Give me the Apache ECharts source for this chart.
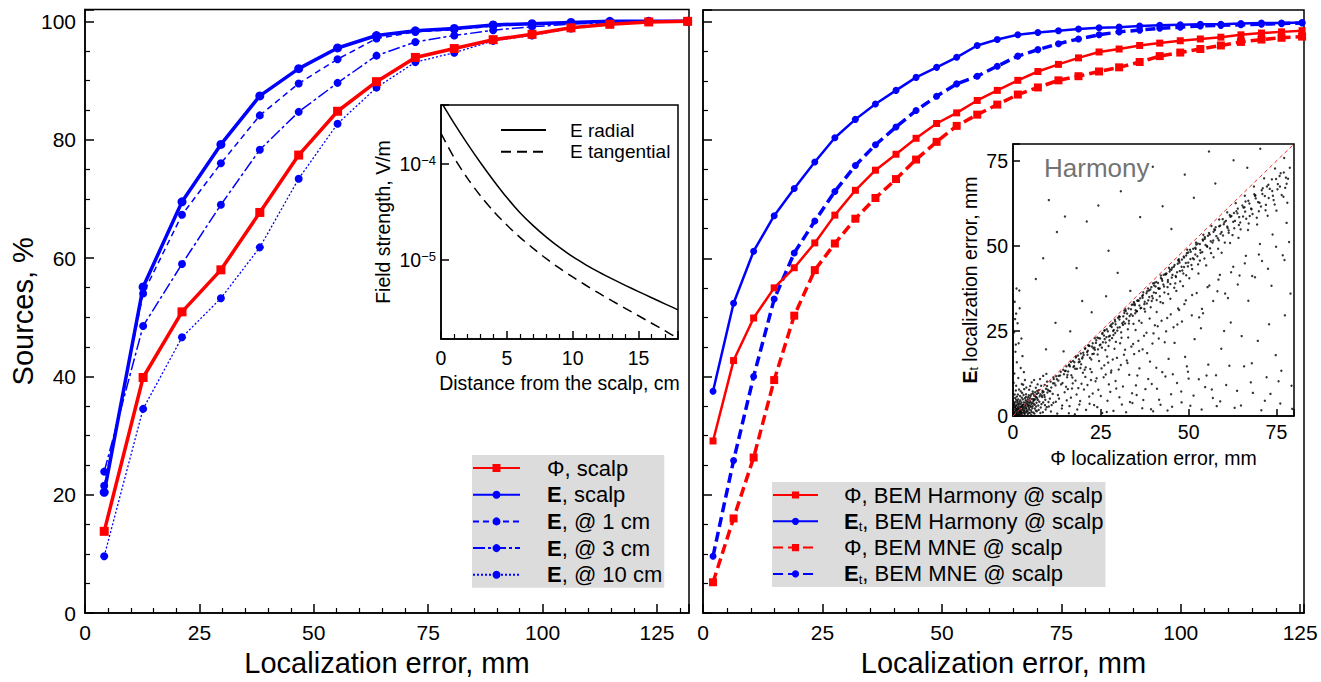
<!DOCTYPE html>
<html>
<head>
<meta charset="utf-8">
<script src="https://cdn.jsdelivr.net/npm/echarts@6/dist/echarts.min.js"></script>
<style>
html, body { margin: 0; padding: 0; background: #fff; }
#chart { width: 1321px; height: 682px; }
</style>
</head>
<body>
<div id="chart"></div>
<script>
const FONT = '"Liberation Sans", Arial, Helvetica, sans-serif';
const RED = '#ff0000';
const BLUE = '#0000ff';

// left panel: localization error, mm  vs  sources, %
const xLeft = [4.2, 12.7, 21.2, 29.7, 38.2, 46.7, 55.2, 63.7, 72.2, 80.7, 89.2, 97.7, 106.2, 114.7, 123.2, 131.7];
const phiScalp = [13.8, 39.8, 50.9, 58.0, 67.7, 77.4, 84.8, 89.8, 93.9, 95.4, 96.9, 97.8, 98.9, 99.5, 99.9, 100];
const eScalp = [20.4, 55.1, 69.5, 79.2, 87.4, 92.0, 95.5, 97.6, 98.4, 98.8, 99.4, 99.6, 99.8, 100, 100, 100];
const e1cm = [21.5, 54.0, 67.3, 76.0, 84.1, 89.5, 93.6, 97.1, 98.2, 98.6, 99.2, 99.5, 99.7, 99.9, 100, 100];
const e3cm = [23.9, 48.5, 59.0, 69.0, 78.3, 84.7, 89.6, 94.2, 96.5, 97.6, 98.5, 99.1, 99.5, 99.8, 100, 100];
const e10cm = [9.6, 34.5, 46.6, 53.2, 61.8, 73.4, 82.7, 88.8, 93.1, 94.7, 96.7, 97.6, 98.8, 99.5, 99.9, 100];

// right panel
const xRight = [2.1, 6.4, 10.6, 14.9, 19.1, 23.4, 27.6, 31.9, 36.1, 40.4, 44.6, 48.9, 53.1, 57.4, 61.6,
  65.9, 70.1, 74.4, 78.6, 82.9, 87.1, 91.4, 95.6, 99.9, 104.1, 108.4, 112.6, 116.9, 121.1, 125.4];
const phiHarmony = [29.1, 42.7, 49.9, 55.0, 58.4, 62.6, 67.3, 71.5, 74.9, 77.6, 80.3, 82.8, 84.6, 86.7, 88.4,
  90.1, 91.6, 92.8, 93.9, 94.9, 95.4, 96.0, 96.4, 96.8, 97.1, 97.4, 97.8, 98.1, 98.3, 98.5];
const etHarmony = [37.5, 52.4, 61.2, 67.2, 71.8, 76.3, 80.4, 83.5, 86.1, 88.4, 90.6, 92.3, 94.0, 96.0, 97.0,
  97.8, 98.2, 98.5, 98.8, 99.0, 99.1, 99.3, 99.4, 99.5, 99.6, 99.6, 99.7, 99.8, 99.8, 99.9];
const phiMne = [5.2, 16.0, 26.3, 39.4, 50.3, 58.0, 62.5, 66.7, 70.2, 73.4, 76.7, 79.7, 82.4, 84.3, 86.0,
  87.7, 88.9, 90.1, 90.8, 91.6, 92.3, 93.2, 94.2, 94.8, 95.4, 96.0, 96.6, 97.0, 97.3, 97.5];
const etMne = [9.6, 25.8, 40.0, 53.1, 60.9, 66.3, 71.3, 75.7, 79.2, 82.2, 85.0, 87.4, 89.5, 90.8, 92.5,
  94.2, 95.3, 96.3, 97.1, 97.8, 98.3, 98.6, 98.9, 99.1, 99.3, 99.4, 99.5, 99.6, 99.7, 99.8];

// inset: field strength vs distance from the scalp
const distCm = [0, 1, 2, 3, 4, 5, 6, 7, 8, 9, 10, 11, 12, 13, 14, 15, 16, 17, 18];
const eRadial = [4.45e-4, 2.65e-4, 1.63e-4, 1.03e-4, 6.7e-5, 4.47e-5, 3.11e-5, 2.28e-5, 1.73e-5, 1.35e-5,
  1.08e-5, 8.9e-6, 7.46e-6, 6.34e-6, 5.43e-6, 4.68e-6, 4.04e-6, 3.49e-6, 3.02e-6];
const eTangential = [2.09e-4, 1.16e-4, 7.13e-5, 4.66e-5, 3.21e-5, 2.31e-5, 1.72e-5, 1.32e-5, 1.03e-5, 8.2e-6,
  6.65e-6, 5.45e-6, 4.5e-6, 3.74e-6, 3.13e-6, 2.62e-6, 2.19e-6, 1.83e-6, 1.52e-6];

// inset: Harmony scatter (phi error, Et error), mm
const scatterPts = [
  [0.5,0.8],[1.2,0.4],[1.8,1.5],[2.3,0.9],[0.9,2.1],[3.1,1.7],[2.7,2.9],[1.5,3.3],[3.8,2.4],[4.2,0.6],
  [0.6,4.1],[2.1,4.6],[4.9,3.1],[5.3,1.2],[3.4,5.2],[1.1,5.7],[5.8,4.4],[6.2,2.2],[4.5,6.1],[2.6,6.8],
  [6.9,5.3],[7.3,1.8],[5.6,7.2],[3.2,7.9],[7.8,6.4],[8.1,3.5],[6.5,8.3],[8.7,7.1],[9.2,4.8],[9.6,2.6],
  [0.3,1.9],[1.4,2.6],[2.9,1.1],[3.6,3.8],[4.4,2.9],[2.2,3.5],[1.7,0.3],[0.8,3.0],[3.3,0.5],[4.7,4.6],
  [5.1,2.7],[3.9,4.3],[2.5,5.4],[5.9,3.6],[6.4,4.9],[4.1,1.5],[1.3,1.3],[0.4,0.2],[2.0,2.0],[2.8,2.3],
  [3.5,2.8],[1.9,1.1],[0.7,1.4],[1.6,2.2],[2.4,1.6],[3.0,3.2],[4.0,3.6],[4.6,1.9],[5.4,5.0],[6.0,6.1],
  [6.7,3.9],[7.1,4.7],[7.6,5.8],[5.0,5.9],[3.7,6.4],[4.3,5.5],[5.7,6.6],[6.3,7.0],[7.4,7.6],[8.3,5.6],
  [8.9,6.2],[9.4,8.0],[8.0,8.9],[7.0,9.3],[9.8,6.9],[9.1,3.2],[8.5,1.1],[7.9,2.5],[6.8,1.4],[6.1,0.7],
  [5.2,0.3],[4.8,0.9],[3.6,1.0],[2.6,0.2],[1.0,0.9],[0.2,0.6],[0.5,2.5],[1.2,3.9],[0.9,4.8],[1.8,4.2],
  [2.3,2.7],[3.1,4.0],[4.4,3.3],[5.5,3.9],[6.6,5.6],[7.2,6.8],[8.4,7.4],[9.0,9.1],[9.9,7.7],[10.5,5.1],
  [10.9,8.4],[10.2,2.8],[11.3,6.5],[11.8,9.6],[12.2,4.2],[1.5,4.9],[2.0,5.9],[3.0,6.2],[0.3,3.4],[0.6,5.3],
  [1.4,6.3],[2.2,7.3],[0.8,7.5],[3.8,8.4],[4.9,8.8],[5.3,9.9],[6.0,10.6],[7.7,10.9],[8.6,11.8],[9.5,12.4],
  [0.1,0.4],[0.3,1.0],[0.6,0.1],[0.9,1.6],[1.1,0.7],[1.3,2.1],[1.6,1.0],[1.8,0.6],[2.0,1.3],[2.2,2.5],
  [2.5,0.8],[2.7,1.9],[2.9,3.4],[3.2,0.9],[3.4,2.2],[3.6,4.6],[3.9,1.3],[4.1,3.0],[4.3,4.1],[4.6,2.4],
  [4.8,5.3],[5.1,1.7],[5.3,3.6],[5.6,2.9],[5.9,5.0],[6.2,3.3],[6.5,1.6],[6.8,6.5],[0.2,2.9],[0.4,3.7],
  [0.7,2.6],[1.0,3.2],[1.2,4.4],[1.5,1.8],[1.7,3.6],[1.9,2.8],[2.1,0.5],[2.4,4.0],[2.6,3.1],[2.8,4.9],
  [3.0,2.6],[3.3,1.5],[3.5,3.3],[3.7,5.6],[3.9,2.0],[4.2,4.9],[4.4,1.0],[4.7,3.8],[5.0,4.2],[5.2,6.4],
  [5.5,2.3],[5.8,1.0],[6.0,4.7],[6.3,5.8],[6.6,2.8],[6.9,7.4],[7.2,3.1],[7.5,4.2],[7.8,0.9],[8.2,6.0],
  [8.6,4.0],[9.0,5.6],[9.3,1.9],[9.7,10.1],[10.1,4.1],[10.6,7.3],[11.0,3.2],[11.5,11.4],[0.5,6.3],[0.9,8.9],
  [1.7,7.8],[2.5,9.4],[3.4,10.6],[4.6,7.7],[0.3,0.3],[0.8,0.5],[1.4,0.2],[0.2,1.3],[1.0,1.9],[2.3,1.2],
  [12.5,10.8],[13.4,11.9],[14.1,9.7],[14.8,13.2],[15.5,12.1],[16.2,14.6],[16.9,11.3],[17.5,15.8],[18.2,13.9],[18.8,16.7],
  [19.4,15.2],[20.1,17.9],[20.7,14.3],[21.3,19.2],[21.9,17.1],[22.5,20.4],[23.0,18.3],[23.6,21.5],[24.2,19.6],[24.8,22.8],
  [25.3,20.1],[25.9,23.7],[26.4,21.6],[27.0,24.9],[27.5,22.3],[28.1,26.2],[28.6,23.8],[29.2,27.0],[29.7,25.1],[30.3,28.4],
  [30.8,24.6],[31.4,29.3],[31.9,27.2],[32.5,30.1],[33.0,28.0],[33.6,31.4],[34.1,29.5],[34.7,32.6],[35.2,30.8],[35.8,33.9],
  [36.3,31.7],[36.9,34.8],[37.4,32.9],[38.0,36.1],[38.5,34.0],[39.1,37.2],[39.6,35.3],[40.2,38.4],[40.7,36.2],[41.3,39.1],
  [41.8,37.5],[42.4,40.3],[43.0,38.1],[43.5,41.6],[44.1,39.4],[44.6,42.5],[45.2,40.7],[45.8,43.9],[46.3,41.2],[46.9,44.8],
  [47.5,42.6],[48.1,46.0],[48.7,43.8],[49.3,47.2],[49.9,45.1],[50.6,48.3],[51.2,46.4],[51.9,49.5],[52.5,47.0],[53.2,50.6],
  [53.9,48.2],[54.6,52.1],[55.3,49.8],[56.0,53.4],[56.8,51.0],[57.5,54.7],[58.3,52.3],[59.0,56.0],[59.8,53.1],[60.6,57.4],
  [61.4,54.6],[62.2,58.8],[63.0,55.2],[63.9,59.6],[64.7,56.9],[65.6,61.3],[66.4,58.0],[67.3,62.5],[68.2,59.4],[69.1,64.0],
  [70.0,60.2],[71.0,65.3],[72.0,62.1],[73.1,66.8],[74.2,63.5],[75.4,68.2],[76.5,65.0],[77.7,70.1],
  [8.4,6.9],[9.7,8.8],[10.3,7.4],[11.6,10.9],[12.1,9.0],[13.0,11.8],[13.7,9.3],[14.3,13.6],[15.4,11.4],[15.9,14.9],
  [16.6,12.0],[17.1,16.2],[17.7,13.9],[18.5,17.8],[19.2,14.1],[19.8,17.3],[20.4,13.6],[21.1,18.8],[21.6,20.7],[22.3,16.6],
  [22.9,19.9],[23.7,22.3],[24.1,18.1],[24.9,21.0],[25.5,24.4],[26.3,19.4],[26.6,23.2],[27.2,20.6],[27.7,26.5],[28.2,22.9],
  [28.7,25.3],[29.3,21.8],[29.9,28.9],[30.4,26.1],[30.9,23.0],[31.5,27.7],[32.1,30.9],[32.7,25.5],[33.2,29.4],[33.8,32.7],
  [34.3,27.1],[34.8,30.2],[35.4,33.9],[35.9,28.0],[36.5,31.8],[37.0,35.6],[37.6,30.7],[38.1,33.1],[38.7,36.9],[39.2,32.0],
  [39.8,34.6],[40.3,39.2],[40.9,34.1],[41.4,37.6],[42.0,33.5],[42.5,39.8],[43.1,36.3],[43.7,41.9],[44.2,35.9],[44.8,38.8],
  [45.3,43.6],[45.9,37.7],[46.4,40.9],[47.0,45.8],[47.6,39.6],[48.2,42.8],[48.7,46.6],[49.3,41.4],[49.8,44.0],[50.4,48.9],
  [51.0,43.2],[51.5,46.1],[52.2,50.4],[52.7,44.6],[53.4,48.0],[54.0,51.9],[54.5,46.3],[55.2,50.0],[55.8,53.8],[56.4,47.9],
  [57.0,51.6],[57.7,55.5],[58.4,49.2],[59.1,53.6],[59.7,57.9],[60.3,51.0],[61.1,55.3],[61.7,59.1],[62.5,53.2],[63.2,57.4],
  [64.0,61.0],[64.8,54.9],[65.5,58.7],[66.2,63.1],[67.1,56.6],[67.9,60.8],[68.7,65.2],[69.4,58.3],[70.2,62.7],[71.1,67.0],
  [71.9,60.5],[72.8,64.1],[73.7,69.6],[74.5,62.2],[75.3,66.7],[76.2,71.4],[77.0,64.5],[77.9,68.3],[78.8,73.0],
  [10.7,10.1],[11.4,9.6],[12.3,11.7],[12.9,10.4],[13.6,13.0],[14.5,12.3],[15.2,14.6],[15.7,13.1],[16.5,15.9],[17.2,14.4],
  [17.9,17.2],[18.7,15.8],[19.3,18.4],[19.7,16.9],[20.6,19.9],[21.2,18.0],[21.8,20.6],[22.7,21.4],[23.3,19.5],[24.0,23.1],
  [24.7,20.8],[25.4,24.2],[26.1,22.6],[26.7,25.5],[27.3,23.4],[28.0,26.9],[28.5,25.0],[29.1,27.8],[29.8,26.0],[30.4,29.2],
  [31.1,27.3],[31.7,30.3],[32.3,28.6],[32.9,31.6],[33.6,29.9],[34.2,32.8],[34.9,31.1],[35.5,34.0],[36.0,32.5],[36.8,35.3],
  [37.5,33.6],[38.2,36.7],[38.8,35.0],[39.4,37.9],[40.1,36.3],[40.8,39.4],[41.5,37.4],[42.1,40.6],[42.8,38.7],[43.4,41.8],
  [44.1,40.0],[44.7,43.1],[45.4,41.5],[46.0,44.4],[46.7,42.3],[47.3,45.6],[48.0,43.9],[48.6,46.9],[49.2,45.0],[49.9,48.1],
  [50.5,46.2],[51.3,49.2],[51.9,47.5],[52.6,50.7],[53.3,48.8],[54.1,51.6],[54.8,50.3],[55.5,53.0],[56.3,51.4],[57.1,54.2],
  [57.9,52.9],[58.7,55.8],[59.4,54.1],[60.2,57.0],[61.0,55.7],[61.9,58.6],[62.7,57.1],[63.6,60.2],[64.4,58.5],[65.3,61.9],
  [66.1,60.1],[67.0,63.3],[67.8,61.0],[68.9,64.8],[69.8,62.9],[70.8,66.4],[71.7,64.7],[72.7,68.0],[73.8,66.2],[74.9,69.7],
  [76.0,67.5],[77.1,71.6],[78.3,69.8],
  [15.0,13.3],[16.0,15.1],[17.4,14.7],[18.0,17.5],[19.0,16.0],[20.0,18.6],[21.4,20.8],[22.6,18.2],[23.2,20.1],[24.4,22.9],
  [25.6,21.7],[26.0,25.1],[27.6,23.6],[28.4,27.3],[29.1,24.4],[30.2,29.3],[31.3,26.8],[32.0,31.4],[33.0,27.2],[34.6,33.1],
  [35.3,30.8],[36.2,34.6],[37.4,31.5],[38.4,37.5],[39.5,33.8],[40.6,38.1],[41.8,35.2],[42.9,41.5],[44.0,37.9],[45.1,43.0],
  [46.2,39.0],[47.4,45.1],[48.5,41.9],[49.5,47.9],[50.8,44.4],[52.0,49.2],[53.2,45.7],[54.6,52.6],[56.1,49.3],[57.3,54.9],
  [58.6,51.7],[60.0,56.4],[61.4,53.9],[62.9,59.7],[64.3,56.2],[65.9,61.4],[67.4,58.8],[69.0,64.9],[70.6,61.6],[72.3,67.5],
  [74.0,64.8],[75.9,70.6],[77.5,67.1],
  [15.1,8.6],[17.8,10.4],[19.9,12.7],[22.0,13.8],[24.5,16.2],[26.8,17.5],[28.9,19.8],[30.5,21.4],[32.8,23.1],[34.9,25.3],
  [36.6,27.4],[38.9,28.7],[40.9,30.6],[42.7,33.2],[44.8,34.5],[46.5,36.8],[48.4,38.2],[50.2,40.5],[52.8,41.9],[55.0,44.3],
  [57.1,46.7],[59.4,48.0],[61.8,50.9],[64.2,52.4],[66.9,54.7],[69.5,56.3],[72.5,58.9],[75.0,60.4],[78.1,62.7],
  [20.5,19.8],[23.3,22.9],[26.1,25.2],[29.0,28.3],[31.7,31.0],[34.4,33.5],[37.1,36.4],[39.9,39.0],[42.1,41.3],[44.4,43.6],
  [47.2,46.1],[49.6,48.9],[52.1,51.0],[54.2,53.3],[56.5,55.9],[58.7,57.8],[61.0,59.9],[63.4,62.6],[66.0,64.8],[68.6,67.5],
  [71.5,69.9],[74.6,72.8],[77.2,75.9],
  [15.6,7.9],[17.0,9.6],[18.6,8.2],[20.6,11.5],[21.2,9.1],[22.4,12.9],[23.8,11.1],[25.2,14.0],[26.4,12.2],[27.1,15.7],
  [28.0,13.4],[29.6,17.1],[30.7,15.0],[31.9,19.5],[32.4,16.3],[33.7,20.4],[34.5,18.2],[35.7,22.1],[36.9,19.6],[38.0,24.5],
  [39.7,21.3],[40.4,26.7],[41.5,22.8],[42.3,28.0],[43.6,24.9],[44.9,29.9],[45.7,26.1],[47.0,31.6],[48.1,27.8],[49.2,34.0],
  [50.9,29.6],[52.3,36.2],[53.8,31.5],[55.4,37.9],[57.0,33.8],[58.5,40.1],[60.4,36.0],[62.1,42.3],[64.0,38.7],[66.0,44.9],
  [68.1,41.2],[70.0,47.5],[72.6,43.3],[74.9,49.8],[77.3,45.9],
  [10.8,1.3],[11.5,3.9],[12.6,0.7],[13.1,5.1],[13.9,2.2],[14.7,7.0],[15.3,4.6],[16.1,2.9],[16.8,8.1],[17.6,0.5],
  [18.1,6.3],[18.9,3.4],[19.5,9.5],[20.8,1.8],[21.7,5.7],[22.2,10.6],[23.1,3.2],[24.3,7.7],[25.4,0.9],[25.8,11.4],
  [26.9,4.5],[27.7,7.1],[28.6,1.5],[29.2,10.3],[30.3,5.5],[31.3,8.7],[32.2,1.1],[33.1,12.1],[34.0,3.8],[35.2,6.2],
  [36.0,14.0],[37.1,4.7],[38.5,10.9],[39.9,1.4],[41.0,8.0],[42.0,3.3],[43.4,11.6],[45.3,2.7],[46.7,9.7],[48.0,4.0],
  [49.5,14.6],[51.4,6.0],[53.7,1.9],[55.1,11.9],[56.6,7.8],[59.0,4.3],[61.6,14.8],[64.9,3.1],[67.7,9.9],[70.7,1.7],
  [73.3,6.5],[76.4,13.3],[79.5,2.1],
  [14.0,3.1],[16.5,5.4],[18.3,1.9],[20.2,7.8],[21.8,3.6],[23.5,10.2],[25.0,5.9],[26.7,1.2],[27.9,12.8],[29.4,8.1],
  [31.0,3.4],[32.6,15.6],[33.9,6.7],[35.4,11.9],[36.8,2.3],[38.2,18.5],[39.5,9.4],[40.8,14.2],[41.6,4.8],[43.2,21.7],
  [44.0,1.6],[45.5,12.3],[46.8,26.9],[47.9,7.2],[49.0,17.4],[50.5,3.0],[51.7,22.6],[52.9,10.8],[54.1,30.2],[55.6,15.1],
  [56.9,5.3],[58.2,36.7],[59.3,19.8],[60.7,9.1],[62.0,27.5],[63.1,2.4],[64.5,41.3],[65.8,14.6],[67.0,33.9],[68.3,6.8],
  [69.7,22.1],[70.9,45.6],[72.2,11.4],[73.6,38.3],[74.8,17.9],[76.1,3.7],[77.4,29.6],[78.6,51.2],[79.3,8.9],
  [12.8,6.2],[15.9,0.8],[19.1,4.4],[22.7,6.6],[24.0,2.6],[27.3,9.3],[30.1,13.7],[33.3,4.1],[35.9,19.1],[37.7,7.9],
  [40.0,24.3],[42.5,12.9],[45.0,6.4],[47.3,31.2],[49.8,13.0],[53.5,25.8],[57.8,12.0],[61.2,34.7],[65.1,23.5],[68.9,40.8],
  [72.9,27.0],[76.8,47.3],[79.0,36.0],
  [26.0,14.9],[28.4,16.6],[31.6,18.0],[34.2,21.2],[37.3,23.6],[39.0,16.0],[41.2,26.4],[43.9,28.8],[46.0,21.5],[48.8,32.9],
  [51.0,35.6],[53.0,29.0],[55.9,38.4],[58.9,41.5],[60.1,25.0],[62.7,43.9],[66.3,47.1],[70.3,50.6],[73.9,53.4],[77.9,56.8],
  [68.0,15.5],[71.7,4.5],[75.6,10.2],[63.8,7.4],[58.0,2.9],[54.7,8.5],[50.0,11.0],[44.3,16.8],[39.3,2.0],[35.0,9.0],
  [10.2,63.5],[12.5,54.1],[14.8,58.7],[8.6,46.4],[18.1,43.5],[21.0,57.2],[24.3,61.9],[27.2,48.6],[30.7,66.1],[33.4,36.8],
  [36.2,58.5],[39.8,73.3],[42.6,61.7],[45.1,55.0],[48.9,71.0],[51.5,64.2],[55.8,77.8],[57.6,68.4],[62.8,75.2],[66.7,73.0],
  [70.4,78.6],[22.4,30.5],[16.3,24.9],[12.1,27.4],[26.5,35.2],[19.7,33.8],[6.5,40.3],[9.4,19.6],[14.4,19.0],[29.8,42.1],
  [0.4,12.5],[1.1,15.8],[0.7,18.9],[1.6,21.4],[0.3,24.6],[1.3,27.3],[0.9,30.1],[0.5,33.6],[1.8,36.9],[2.2,14.1],
  [0.2,9.8],[1.5,11.2],[2.7,17.6],[0.6,28.5],[1.0,37.5],[2.4,22.8],[3.1,12.9],[0.8,21.0],[1.9,31.7],[2.9,9.2]
];
const diagX = [0, 80];

const legendLabels = {
  'Φ, scalp': '{sp| }Φ, scalp',
  'E, scalp': '{sp| }{b|E}, scalp',
  'E, @ 1 cm': '{sp| }{b|E}, @ 1 cm',
  'E, @ 3 cm': '{sp| }{b|E}, @ 3 cm',
  'E, @ 10 cm': '{sp| }{b|E}, @ 10 cm',
  'Φ, BEM Harmony @ scalp': '{sp| }Φ, BEM Harmony @ scalp',
  'Et, BEM Harmony @ scalp': '{sp| }{b|E}{s|t}, BEM Harmony @ scalp',
  'Φ, BEM MNE @ scalp': '{sp| }Φ, BEM MNE @ scalp',
  'Et, BEM MNE @ scalp': '{sp| }{b|E}{s|t}, BEM MNE @ scalp',
  'E radial': '{sp| }E radial',
  'E tangential': '{sp| }E tangential'
};

function pairs(xs, ys) {
  return xs.map((x, i) => [x, ys[i]]);
}

function onStep(step) {
  return v => (Math.abs(v / step - Math.round(v / step)) < 1e-6 ? String(Math.round(v)) : '');
}

function axis(o) {
  return {
    type: o.type || 'value',
    gridIndex: o.grid,
    min: o.min,
    max: o.max,
    interval: o.interval,
    name: o.name || '',
    nameLocation: 'middle',
    nameGap: o.nameGap || 30,
    nameRotate: o.nameRotate,
    nameTextStyle: {
      color: '#000', fontSize: o.nameSize || 29, fontFamily: FONT,
      rich: o.nameRich
    },
    axisLine: { show: true, onZero: false, lineStyle: { color: '#000', width: 1.5 } },
    axisTick: { show: true, inside: true, length: o.tickLen || 9, lineStyle: { color: '#000', width: 1.5 } },
    minorTick: {
      show: !!o.minor, splitNumber: o.minor || 5, length: o.minorLen || 5,
      lineStyle: { color: '#000', width: 1.2 }
    },
    splitLine: { show: false },
    axisLabel: {
      show: o.showLabel !== false, color: '#000', fontSize: o.labelSize || 21, fontFamily: FONT,
      margin: o.labelMargin || 9, formatter: o.formatter || onStep(o.interval),
      rich: o.labelRich
    }
  };
}

function legend(o) {
  const lg = {
    orient: 'vertical',
    left: o.left,
    top: o.top,
    data: o.data,
    backgroundColor: o.bg || 'transparent',
    padding: o.padding,
    itemWidth: o.itemWidth,
    itemHeight: o.itemHeight || 10,
    itemGap: o.itemGap,
    formatter: name => legendLabels[name],
    textStyle: {
      color: '#000', fontSize: o.fontSize, fontFamily: FONT, lineHeight: o.lineHeight,
      rich: {
        sp: { width: o.spacer, fontSize: o.fontSize, lineHeight: o.lineHeight },
        b: { fontWeight: 'bold', fontSize: o.fontSize, fontFamily: FONT, lineHeight: o.lineHeight },
        s: { fontSize: 13, fontFamily: FONT, verticalAlign: 'bottom', lineHeight: o.lineHeight }
      }
    }
  };
  if (o.itemStyle) lg.itemStyle = o.itemStyle;
  return lg;
}

function lineSeries(name, xi, xs, ys, color, width, dash, symbol, size) {
  return {
    name: name,
    type: 'line',
    xAxisIndex: xi,
    yAxisIndex: xi,
    data: pairs(xs, ys),
    symbol: symbol,
    symbolSize: size,
    showSymbol: symbol !== 'none',
    color: color,
    itemStyle: { color: color },
    lineStyle: { color: color, width: width, type: dash || 'solid' },
    animation: false
  };
}

const chart = echarts.init(document.getElementById('chart'), null, { renderer: 'svg' });

const option = {
  backgroundColor: '#fff',
  animation: false,
  title: {
    text: 'Harmony', left: 1039, top: 150,
    textStyle: { color: '#737373', fontSize: 26, fontWeight: 'normal', fontFamily: FONT }
  },
  grid: [
    { left: 85, top: 9.5, width: 604, height: 603.5, show: true, borderColor: '#000', borderWidth: 1.5 },
    { left: 703, top: 10, width: 601, height: 603, show: true, borderColor: '#000', borderWidth: 1.5 },
    { left: 441, top: 105, width: 237, height: 234, show: true, borderColor: '#000', borderWidth: 1.5, backgroundColor: '#fff' },
    { left: 1013, top: 144, width: 281, height: 272, show: true, borderColor: '#000', borderWidth: 1.5, backgroundColor: '#fff' }
  ],
  xAxis: [
    axis({ grid: 0, min: 0, max: 132, interval: 25, minor: 5, name: 'Localization error, mm', nameGap: 35 }),
    axis({ grid: 1, min: 0, max: 125.8, interval: 25, minor: 5, name: 'Localization error, mm', nameGap: 35 }),
    axis({ grid: 2, min: 0, max: 18, interval: 5, minor: 5, tickLen: 8, minorLen: 5, labelSize: 19.5,
      name: 'Distance from the scalp, cm', nameGap: 34, nameSize: 19.5 }),
    axis({ grid: 3, min: 0, max: 80, interval: 25, tickLen: 7, labelSize: 19.5, labelMargin: 6,
      name: 'Φ localization error, mm', nameGap: 32, nameSize: 19.5 })
  ],
  yAxis: [
    axis({ grid: 0, min: 0, max: 102, interval: 20, minor: 4, name: 'Sources, %', nameGap: 45 }),
    axis({ grid: 1, min: 0, max: 102, interval: 20, minor: 4, showLabel: false }),
    axis({ grid: 2, type: 'log', min: 1.5e-6, max: 4.12e-4, tickLen: 8, labelSize: 19.5, labelMargin: 5,
      name: 'Field strength, V/m', nameGap: 48, nameSize: 19.5,
      formatter: v => {
        const e = Math.log10(v);
        if (Math.abs(e - Math.round(e)) > 1e-6) return '';
        return '10{sup|−' + Math.abs(Math.round(e)) + '}';
      },
      labelRich: { sup: { fontSize: 13, fontFamily: FONT, verticalAlign: 'top', color: '#000' } } }),
    axis({ grid: 3, min: 0, max: 80, interval: 25, tickLen: 7, labelSize: 19.5, labelMargin: 5,
      name: '{b|E}{s|t} localization error, mm', nameGap: 33, nameSize: 19.5,
      nameRich: {
        b: { fontWeight: 'bold', fontSize: 19.5, fontFamily: FONT, color: '#000' },
        s: { fontSize: 12, fontFamily: FONT, verticalAlign: 'bottom', color: '#000' }
      } })
  ],
  legend: [
    legend({ left: 472, top: 455, data: ['Φ, scalp', 'E, scalp', 'E, @ 1 cm', 'E, @ 3 cm', 'E, @ 10 cm'],
      bg: '#dcdcdc', padding: [1, 2, 1, 0], itemWidth: 47, itemHeight: 10, itemGap: 2.7,
      fontSize: 22, lineHeight: 24, spacer: 22 }),
    legend({ left: 772, top: 482, data: ['Φ, BEM Harmony @ scalp', 'Et, BEM Harmony @ scalp', 'Φ, BEM MNE @ scalp', 'Et, BEM MNE @ scalp'],
      bg: '#dcdcdc', padding: [1, 2, 1, 0], itemWidth: 45, itemHeight: 9, itemGap: 2.3,
      fontSize: 22, lineHeight: 24, spacer: 21 }),
    legend({ left: 500, top: 120, data: ['E radial', 'E tangential'],
      padding: 0, itemWidth: 45, itemHeight: 2, itemGap: 1.7, itemStyle: { color: 'transparent', borderWidth: 0 },
      fontSize: 19, lineHeight: 20, spacer: 19 })
  ],
  series: [
    lineSeries('E, @ 10 cm', 0, xLeft, e10cm, BLUE, 1.3, [2, 2], 'circle', 8),
    lineSeries('E, @ 3 cm', 0, xLeft, e3cm, BLUE, 1.5, [12, 3, 3, 3], 'circle', 8),
    lineSeries('E, @ 1 cm', 0, xLeft, e1cm, BLUE, 1.5, [6, 4], 'circle', 8),
    lineSeries('E, scalp', 0, xLeft, eScalp, BLUE, 3.5, 'solid', 'circle', 9),
    lineSeries('Φ, scalp', 0, xLeft, phiScalp, RED, 3.5, 'solid', 'rect', 9),

    lineSeries('Φ, BEM MNE @ scalp', 1, xRight, phiMne, RED, 3.5, [10, 5], 'rect', 8),
    lineSeries('Et, BEM MNE @ scalp', 1, xRight, etMne, BLUE, 3.5, [10, 5], 'circle', 7),
    lineSeries('Φ, BEM Harmony @ scalp', 1, xRight, phiHarmony, RED, 2.5, 'solid', 'rect', 7),
    lineSeries('Et, BEM Harmony @ scalp', 1, xRight, etHarmony, BLUE, 2.5, 'solid', 'circle', 7),

    Object.assign(lineSeries('E radial', 2, distCm, eRadial, '#000', 1.5, 'solid', 'none', 0), { smooth: 0.3 }),
    Object.assign(lineSeries('E tangential', 2, distCm, eTangential, '#000', 1.5, [10, 6], 'none', 0), { smooth: 0.3 }),

    {
      name: 'scatter', type: 'scatter', xAxisIndex: 3, yAxisIndex: 3,
      data: scatterPts, symbolSize: 2.4, itemStyle: { color: '#000' }, silent: true, animation: false
    },
    lineSeries('diagonal', 3, diagX, diagX, '#e83030', 1, [4, 3], 'none', 0)
  ]
};

chart.setOption(option);
</script>
</body>
</html>
